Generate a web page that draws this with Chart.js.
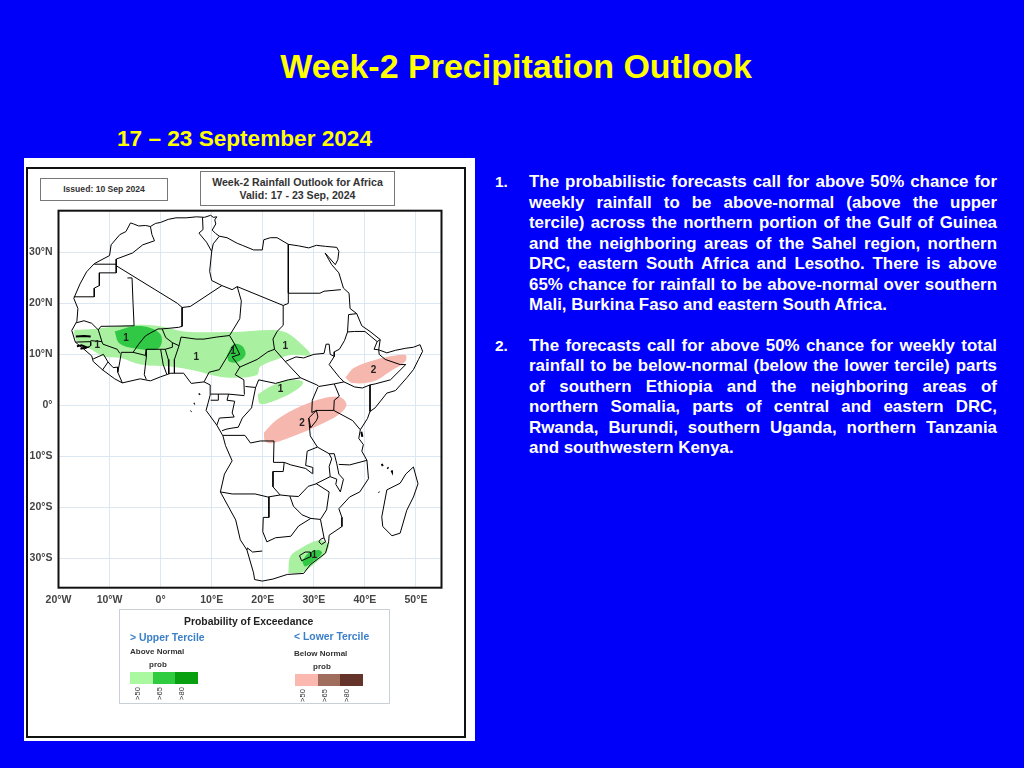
<!DOCTYPE html>
<html>
<head>
<meta charset="utf-8">
<title>Week-2 Precipitation Outlook</title>
<script src="https://cdn.jsdelivr.net/npm/chart.js@4"></script>
<style>
  html, body { margin: 0; padding: 0; }
  body { width: 1024px; height: 768px; background: #0000fa; position: relative; overflow: hidden; font-family: "Liberation Sans", Arial, sans-serif; }
  .abs { position: absolute; white-space: nowrap; }
  #title { left: 0; width: 1032px; top: 46px; text-align: center; color: #ffff00; font-weight: bold; font-size: 34px; line-height: 40px; }
  #dates { left: 117px; top: 126px; color: #ffff00; font-weight: bold; font-size: 22.6px; line-height: 26px; }
  #panel { left: 24px; top: 158px; width: 451px; height: 583px; background: #fff; }
  #frame { left: 26px; top: 167px; width: 436px; height: 567px; border: 2px solid #111; }
  canvas { position: absolute; left: 24px; top: 158px; filter: blur(0.35px); }
  .box { position: absolute; border: 1px solid #777; background: #fff; color: #333; font-weight: bold; text-align: center; box-sizing: border-box; }
  #issued { left: 40px; top: 178px; width: 128px; height: 23px; font-size: 8.6px; line-height: 21px; }
  #maphead { left: 200px; top: 171px; width: 195px; height: 35px; font-size: 10.6px; line-height: 12.5px; padding-top: 4px; }
  #legend { position: absolute; left: 119px; top: 609px; width: 271px; height: 95px; border: 1px solid #c8d0d8; box-sizing: border-box; }
  .lg { position: absolute; white-space: nowrap; color: #222; font-weight: bold; }
  .tercile { color: #3a7fc8; font-size: 10.4px; }
  .small { font-size: 8px; color: #333; }
  .swatch { position: absolute; height: 12px; }
  .rot { position: absolute; white-space: nowrap; font-size: 7.5px; color: #333; transform: rotate(-90deg); transform-origin: center; width: 16px; text-align: center; }
  .para { position: absolute; left: 495px; color: #fff; font-weight: bold; font-size: 16.9px; line-height: 20.5px; }
  .para .num { position: absolute; left: 0; top: 0; font-size: 15.5px; }
  .para .ln { margin-left: 34px; width: 468px; text-align: justify; text-align-last: justify; white-space: nowrap; }
  .para .ln.end { text-align-last: left; }
</style>
</head>
<body>
<div id="title" class="abs">Week-2 Precipitation Outlook</div>
<div id="dates" class="abs">17 – 23 September 2024</div>
<div id="panel" class="abs"></div>
<div id="frame" class="abs"></div>
<canvas id="map" width="452" height="583"></canvas>
<div id="issued" class="box">Issued: 10 Sep 2024</div>
<div id="maphead" class="box">Week-2 Rainfall Outlook for Africa<br>Valid: 17 - 23 Sep, 2024</div>

<div id="legend"></div>
<div class="lg" style="left:184px;top:616px;font-size:10.4px">Probability of Exceedance</div>
<div class="lg tercile" style="left:130px;top:632px">&gt; Upper Tercile</div>
<div class="lg small" style="left:130px;top:647px">Above Normal</div>
<div class="lg small" style="left:149px;top:660px">prob</div>
<div class="lg tercile" style="left:294px;top:631px">&lt; Lower Tercile</div>
<div class="lg small" style="left:294px;top:649px">Below Normal</div>
<div class="lg small" style="left:313px;top:662px">prob</div>
<div id="swatches"></div>

<div class="para" style="top:172px">
  <div class="num">1.</div>
  <div class="ln">The probabilistic forecasts call for above 50% chance for</div>
  <div class="ln">weekly rainfall to be above-normal (above the upper</div>
  <div class="ln">tercile) across the northern portion of the Gulf of Guinea</div>
  <div class="ln">and the neighboring areas of the Sahel region, northern</div>
  <div class="ln">DRC, eastern South Africa and Lesotho. There is above</div>
  <div class="ln">65% chance for rainfall to be above-normal over southern</div>
  <div class="ln end">Mali, Burkina Faso and eastern South Africa.</div>
</div>
<div class="para" style="top:335.5px">
  <div class="num">2.</div>
  <div class="ln">The forecasts call for above 50% chance for weekly total</div>
  <div class="ln">rainfall to be below-normal (below the lower tercile) parts</div>
  <div class="ln">of southern Ethiopia and the neighboring areas of</div>
  <div class="ln">northern Somalia, parts of central and eastern DRC,</div>
  <div class="ln">Rwanda, Burundi, southern Uganda, northern Tanzania</div>
  <div class="ln end">and southwestern Kenya.</div>
</div>

<script>
// axis ticks
const lonTicks = [-20, -10, 0, 10, 20, 30, 40, 50];
const latTicks = [30, 20, 10, 0, -10, -20, -30];

// africa coast, [lon, lat]
const coast = [[-5.9,35.8],[-5.3,35.6],[-4.3,35.2],[-3,35.3],[-2,35.1],[-1,35.7],[0,35.9],[1.5,36.5],[3,36.8],[5,36.8],[7,37],[8.6,36.9],[9.8,37.3],[10.3,36.9],[11,37],[10.6,36.4],[10.8,35.6],[10.1,34.4],[10.8,33.7],[11.5,33.2],[13,32.9],[15,31.8],[16,31.4],[18.2,30.5],[19.9,30.5],[20.2,32.5],[21.5,32.9],[22.8,32.9],[25,31.6],[27,31.3],[29,30.9],[30.5,31.4],[32.3,31.2],[34.5,31],[34.9,30.2],[34.7,28.6],[34.2,27.6],[32.2,29.9],[33.5,27.6],[34.9,26],[35.8,23],[36.9,22],[37.1,19],[38.4,18],[39.4,15.6],[41,14.5],[43,12.9],[42.7,10.9],[44.3,10.3],[46,10.8],[48,11.2],[49.5,11.4],[50.8,11.9],[51.3,10.6],[50.5,9],[49.5,7],[48.2,5.4],[46,2.9],[44.3,2.4],[42,-0.5],[41,-1.2],[40.5,-2.6],[39.1,-4.8],[38.8,-6.5],[39.7,-7.7],[39.4,-9],[40.4,-10.8],[40.7,-14.4],[39,-17],[37,-18],[34.9,-20.3],[35.5,-22],[35.5,-23.8],[33,-25.5],[32.9,-26.8],[32.3,-29],[29.3,-31.3],[28,-33],[24.8,-33.2],[22,-34.1],[19.9,-34.5],[18.4,-34.2],[18.2,-32.9],[16.9,-28.4],[15.6,-26.4],[14.7,-22.5],[11.7,-17],[12.5,-13.5],[14,-10.9],[12.7,-7.9],[12.2,-6],[11,-3.9],[8.9,-1],[9.3,0.5],[9.7,2],[9.7,4],[8.5,4.6],[6,4.3],[4.5,6.3],[2,6.3],[0,5.6],[-2,4.8],[-4,5.2],[-7.5,4.4],[-9,5.2],[-11.3,6.9],[-13.2,8.6],[-13.5,9.7],[-15,11],[-16.7,12.4],[-17.4,14.7],[-16.4,16.5],[-16.2,19],[-17,21],[-15.8,23.8],[-14.5,26.2],[-13,27.8],[-10,29.4],[-9.7,31.5],[-8,33.5],[-6.8,34.1],[-5.9,35.8]];
const madagascar = [[49.5,-12.1],[50.4,-15.4],[49.5,-18],[48.2,-20.6],[46.9,-25.1],[45.3,-25.6],[43.5,-23.8],[43.3,-21.9],[44.3,-16.6],[46.9,-15.3],[48,-13.5],[49.5,-12.1]];

// north africa borders
const moroccoAlgeria = [[-2,35.1],[-1.7,33.5],[-1.2,32.3],[-3.5,31.5],[-5.5,29.9],[-8.7,28.7],[-8.7,27.6]];
const westSahara = [[-13,27.7],[-8.7,27.7],[-8.7,26],[-12,26],[-12,23.5],[-13,23],[-13,21.3],[-17,21.3]];
const algeriaWest = [[-8.7,27.4],[3.3,20],[4.2,19.2],[5.8,19.4],[12,23.5]];
const mauritaniaMali = [[-6.5,25],[-5.6,25],[-5.4,20],[-5.2,15.6],[-11.7,15.5],[-12.2,14.8]];
const senegalRiver = [[-16.5,16.2],[-15,16.6],[-13.5,16.1],[-12.2,14.8],[-11.5,12.5]];
const algeriaLibya = [[12,23.5],[10,24.5],[9.6,26.3],[10,30.2],[9,32],[7.5,33.8],[8.3,34.5],[8.2,36.9]];
const tunisiaLibya = [[11.5,33.2],[10.3,31.7],[10,30.2]];
const libyaSouth = [[12,23.5],[14,22.7],[15,23.3],[24,19.6],[25,20],[25,22]];
const egyptWest = [[25,31.6],[25,22]];
const egyptSudan = [[25,22],[31.2,22],[32,22.4],[35.3,22.7]];

// west africa borders
const maliNiger = [[4.2,19.2],[4.2,15.5],[3.5,15.3],[0.3,15]];
const burkinaMali = [[0.3,15],[-0.5,15],[-2,14.2],[-3,13.6],[-4.3,12],[-5.4,10.4]];
const malinigerSouth = [[0.3,15],[1,13.3],[2.3,12.3],[3.6,11.7]];
const nigerNigeria = [[3.6,11.7],[4,13.4],[6.9,13],[8.5,13],[11,13.4],[13.5,13.7]];
const nigerChad = [[13.5,13.7],[15.5,17],[15.8,20.5],[15,23.3]];
const beninEast = [[3.6,11.7],[2.7,9],[2.7,6.3]];
const burkinaSouth = [[-5.4,10.4],[-3,9.8],[-2.8,11],[0,11],[0.9,11],[2.3,11.4],[2.3,12.3]];
const togoBenin = [[0.9,11],[1.5,9],[1.6,6.2]];
const ghanaTogo = [[0,11],[0.5,8],[1.2,6.1]];
const ghanaIvory = [[-2.8,11],[-2.8,9.5],[-3.2,6],[-2.8,5.1]];
const ivoryWest = [[-7.5,4.4],[-8.4,6.5],[-8,8.5],[-7.7,10.4],[-5.4,10.4]];
const liberia = [[-11.4,6.9],[-10.3,8.5],[-9.3,7.4],[-8.4,7.5],[-8.4,6.5]];
const sierraLeone = [[-13.2,9.1],[-11.2,10],[-10.3,8.5]];
const guineaMali = [[-11.5,12.5],[-11.3,12],[-8.5,11],[-8,10.2]];
const guineaNorth = [[-13.7,12.7],[-11.5,12.5]];
const bissau = [[-16.7,12.4],[-13.7,12.5],[-13.7,11.7],[-15,11]];
const gambia = [[-16.6,13.5],[-15,13.6],[-13.7,13.5]];
const bissauIslands = [[-16.4,11.6],[-15.5,11.8],[-14.5,11.4],[-15.7,11.1]];

// central africa borders
const nigeriaCameroon = [[8.5,4.6],[9.5,6.5],[11.5,7],[13,9.5],[14.5,12],[13.5,13.7]];
const chadCameroon = [[14.5,12],[15,11],[15.5,10],[14,9.5],[15.5,7.5]];
const chadSouth = [[15.5,7.5],[18.9,9],[21,10.5],[22.3,11]];
const chadSudan = [[22.3,11],[22,13],[22.8,14.5],[24,15.7],[24,19.6]];
const sudanSouth = [[22.3,11],[24.4,8.6],[26.5,9.5],[28,9.3],[30,10],[32,10.2],[32.4,12],[33,12],[33.2,10],[34,9.6]];
const carCameroon = [[15.5,7.5],[14.6,6],[16.3,5],[16.4,2.1]];
const carSouth = [[16.6,3.7],[18.6,3.5],[19.2,5],[22.5,4.3],[25,5],[27.4,5.4],[24.4,8.6]];
const cameroonSouth = [[9.8,2.2],[13.3,2.2],[16.4,1.9]];
const eqGuinea = [[9.8,1],[11.3,1],[11.3,2.2]];
const gabon = [[13.3,2.2],[13,1],[14.5,0.8],[14,-1.5],[14.4,-2.3],[11.5,-2.5],[11,-3.9]];
const congoDrc = [[18.6,3.5],[17.8,-0.5],[16,-2.5],[15.2,-4.3],[13.8,-4.5],[12.8,-4.7],[12,-5]];
const drcAngola = [[12.2,-5.9],[13,-5.9],[16.5,-5.9],[17.6,-7.4],[19.5,-7],[22.2,-7],[22.1,-11.2],[24.2,-11.2]];
const angolaZambia = [[24.2,-11.2],[24,-13],[22,-13],[22,-16],[23.4,-17.6]];
const angolaNamibia = [[11.7,-17],[14,-17.4],[18.5,-17.4],[21,-18],[23.4,-17.6],[25.3,-17.8]];

// east africa borders
const eritrea = [[38.4,18],[36.8,17.8],[36.6,14.4],[38,14.5],[40,14.5],[42.4,12.5]];
const djibouti = [[43,12.9],[42.4,12.5],[41.8,11],[42.7,10.9]];
const sudanEthiopia = [[36.6,14.4],[36,12.7],[35,11],[34,10.5],[34,9.6],[33,8],[35,5.5],[35.9,4.6]];
const kenyaNorth = [[34,4.2],[35.9,4.6],[38,3.6],[39.5,3.4],[41,4]];
const ethiopiaSomalia = [[41,4],[42,4.2],[45,5],[48,8],[46.9,8],[44,9],[42.8,10],[42.7,10.9]];
const kenyaSomalia = [[41,4],[41,-1.2]];
const southSudanSouth = [[27.4,5.4],[30.6,4],[31,3.7],[34,4.2]];
const ugandaWest = [[30.8,3.6],[29.7,1],[29.6,-1.4]];
const ugandaEast = [[34,4.2],[35,1.8],[34,1],[33.9,-1]];
const ugandaSouth = [[29.6,-1.4],[30.5,-1],[33.9,-1]];
const kenyaTanzania = [[33.9,-1],[37.6,-3],[39.1,-4.8]];
const rwandaBurundi = [[29,-2.5],[30.5,-1],[30.8,-2.3],[30.5,-3],[29.4,-4.4],[29,-2.5]];
const lakeBorder = [[29,-2.5],[29.3,-6],[30.7,-8.2],[33,-9.5]];
const zambiaDrc = [[24.2,-11.2],[25.5,-11.7],[28.4,-12.4],[29.7,-13.4],[29.8,-12.2],[28.4,-11.8],[28.7,-9],[30.7,-8.2]];
const malawi = [[33,-9.5],[34,-9.5],[34.5,-11.5],[34.9,-13.5],[35.8,-14.5],[35.2,-17],[34.3,-15.5],[34.5,-14.5],[33.2,-14],[33,-12],[33.5,-10.5],[33,-9.5]];
const zambiaMoz = [[30.4,-15.4],[33.2,-14]];
const tanzaniaMoz = [[34.9,-11.6],[37,-11.7],[40.4,-10.8]];

// southern africa borders
const zimbabwe = [[25.3,-17.8],[26,-19.8],[27.7,-21.5],[29.4,-22.2],[31.3,-22.4],[32.5,-20.5],[33,-17],[30.5,-15.4],[28.9,-15.9],[27,-17.9],[25.3,-17.8]];
const namibiaEast = [[21.2,-18],[21.2,-22],[20.1,-22],[20,-24.8],[20.8,-26.8],[22.5,-26],[25.5,-25.7],[27,-23.7],[29.4,-22.2]];
const orangeRiver = [[16.9,-28.4],[17,-28],[18,-28.8],[19.9,-28.6]];
const mozambiqueSa = [[31.3,-22.4],[32,-26]];
const swaziland = [[31.3,-26.3],[32,-26],[32.3,-26.8],[31.5,-27.3],[31,-26.8],[31.3,-26.3]];
const lesotho = [[27.2,-29.5],[28.3,-28.8],[29.3,-28.8],[29.4,-29.7],[28.3,-30.2],[27.6,-30.5],[27.2,-29.5]];

// islands
const bioko = [[7.5,2.1],[7.7,2.3]];
const saoTome = [[6.5,0.3],[6.7,0.4]];
const annobon = [[5.9,-1.2],[6,-1.1]];
const zanzibar = [[39.3,-5.2],[39.5,-6.2]];
const comoros = [[43.3,-11.5],[43.5,-11.9]];
const comorosEast = [[44.4,-12.2],[44.6,-12.4]];
const mayotte = [[45.2,-12.8],[45.3,-13]];
const juanDeNova = [[42.7,-17],[42.8,-17.1]];

// forecast regions
const above50West = [[-16.9,14.8],[-13,15],[-8.5,15.5],[-4.6,15.8],[0,15.5],[4.6,14.5],[13.7,14.4],[22.1,14.8],[24.8,14.2],[27.7,11.9],[29.3,9.9],[25.4,9.9],[23.5,9.3],[19.5,7.6],[18.9,6],[15,5.4],[11.1,5.7],[7.2,6.7],[2,7.6],[-3.9,8],[-7.8,9.3],[-11.1,9.6],[-14,11.2],[-16.3,12.5],[-16.9,13.9],[-16.9,14.8]];
const above50Congo = [[19,2.1],[21.5,3.7],[25.4,5],[27.9,4.6],[26.7,3.1],[22.8,1.1],[19.5,0.3],[19,2.1]];
const above50Safrica = [[25,-32.9],[25.4,-29.7],[27.4,-28.1],[30.9,-26.5],[32.9,-27.3],[32.2,-29.1],[29.9,-31.3],[27.4,-32.9],[25,-32.9]];
const above65Mali = [[-9,14.5],[-5.2,15.5],[-2,15.2],[0,13.9],[0.1,11.9],[-1,10.9],[-5.2,11.2],[-8.1,12.2],[-9,14.5]];
const above65Chad = [[13,9.9],[14.3,12],[16,11.6],[16.6,9.9],[15,8.5],[13.4,8.6],[13,9.9]];
const above65Safrica = [[27.7,-30.6],[29,-29],[30.9,-28.4],[31.6,-29],[30,-30.6],[28.3,-31.6],[27.7,-30.6]];
const below50Somalia = [[36.2,5.4],[37.8,7.3],[42.3,9],[47.9,9.9],[47.9,8.6],[45,6.7],[41.7,4.7],[37.5,4.4],[36.2,5.4]];
const below50Drc = [[20.2,-5.4],[22.8,-2.8],[27.4,-0.2],[31.9,1.4],[35.2,1.6],[36.4,0.1],[34.9,-1.8],[30.6,-4.1],[26.7,-5.8],[22.1,-7.4],[20.5,-7.1],[20.2,-5.4]];

// numbers printed inside the regions
const regionNames = ['1', '1', '1', '1', '1', '1', '1', '2', '2'];
const regionLons = [-6.8, 7, -12.4, 14.2, 24.4, 23.5, 30.1, 41.7, 27.7];
const regionLats = [13.2, 9.5, 11.8, 10.6, 11.5, 3.1, -29.4, 6.8, -3.5];

// legend
const upperLabels = ['>50', '>65', '>80'];
const upperColors = ['#aaf8a0', '#30cc40', '#08a010'];
const lowerLabels = ['>50', '>65', '>80'];
const lowerColors = ['#fbb8ae', '#a06c5c', '#64342a'];

const fmtLon = v => v === 0 ? '0°' : `${Math.abs(v)}°${v < 0 ? 'W' : 'E'}`;
const fmtLat = v => v === 0 ? '0°' : `${Math.abs(v)}°${v < 0 ? 'S' : 'N'}`;
const toPoints = list => list.map(p => ({ x: p[0], y: p[1] }));

function drawSwatches(left, top, colors, labels, labelTop) {
  const holder = document.getElementById('swatches');
  colors.forEach((c, i) => {
    holder.innerHTML += `<div class="swatch" style="left:${left + i * 22.5}px;top:${top}px;width:22.5px;background:${c}"></div>`;
    holder.innerHTML += `<div class="rot" style="left:${left - 1 + i * 22}px;top:${labelTop}px">${labels[i]}</div>`;
  });
}
drawSwatches(130, 672, upperColors, upperLabels, 689);
drawSwatches(295, 674, lowerColors, lowerLabels, 691);

function regionSet(list, color, order) {
  return { data: toPoints(list), showLine: true, fill: 'shape', backgroundColor: color, borderWidth: 0, pointRadius: 0, tension: 0.35, order };
}
function borderSet(list, width) {
  return { data: toPoints(list), showLine: true, fill: false, borderColor: '#000', borderWidth: width, pointRadius: 0, order: 1 };
}

const thinLines = [coast, madagascar, moroccoAlgeria, westSahara, algeriaWest, mauritaniaMali, senegalRiver, algeriaLibya, tunisiaLibya, libyaSouth, egyptWest, egyptSudan,
  maliNiger, burkinaMali, malinigerSouth, nigerNigeria, nigerChad, beninEast, burkinaSouth, togoBenin, ghanaTogo, ghanaIvory, ivoryWest, liberia, sierraLeone, guineaMali, guineaNorth, bissau,
  nigeriaCameroon, chadCameroon, chadSouth, chadSudan, sudanSouth, carCameroon, carSouth, cameroonSouth, eqGuinea, gabon, congoDrc, drcAngola, angolaZambia, angolaNamibia,
  eritrea, djibouti, sudanEthiopia, kenyaNorth, ethiopiaSomalia, kenyaSomalia, southSudanSouth, ugandaWest, ugandaEast, ugandaSouth, kenyaTanzania, rwandaBurundi, lakeBorder, zambiaDrc, malawi, zambiaMoz, tanzaniaMoz,
  zimbabwe, namibiaEast, orangeRiver, mozambiqueSa, swaziland, lesotho];
const thickLines = [gambia, bissauIslands, bioko, saoTome, annobon, zanzibar, comoros, comorosEast, mayotte, juanDeNova];

const datasets = [
  ...thinLines.map(l => borderSet(l, 1)),
  ...thickLines.map(l => borderSet(l, 2)),
  regionSet(above65Mali, '#30c845', 2),
  regionSet(above65Chad, '#30c845', 2),
  regionSet(above65Safrica, '#30c845', 2),
  regionSet(above50West, '#a9f0a0', 3),
  regionSet(above50Congo, '#a9f0a0', 3),
  regionSet(above50Safrica, '#a9f0a0', 3),
  regionSet(below50Somalia, '#f6b7ae', 3),
  regionSet(below50Drc, '#f6b7ae', 3),
];

const mapFrame = {
  id: 'mapFrame',
  afterDraw(chart) {
    const { ctx, chartArea: a } = chart;
    ctx.save();
    ctx.strokeStyle = '#111';
    ctx.lineWidth = 2;
    ctx.strokeRect(a.left, a.top, a.right - a.left, a.bottom - a.top);
    ctx.restore();
  },
};

const regionText = {
  id: 'regionText',
  afterDatasetsDraw(chart) {
    const { ctx, scales } = chart;
    ctx.save();
    ctx.font = 'bold 10px "Liberation Sans"';
    ctx.fillStyle = '#222';
    ctx.textAlign = 'center';
    ctx.textBaseline = 'middle';
    regionNames.forEach((name, i) => {
      ctx.fillText(name, scales.x.getPixelForValue(regionLons[i]), scales.y.getPixelForValue(regionLats[i]));
    });
    ctx.restore();
  },
};

const tickFont = { family: '"Liberation Sans"', size: 10.5, weight: 'bold' };

new Chart(document.getElementById('map'), {
  type: 'scatter',
  data: { datasets },
  plugins: [mapFrame, regionText],
  options: {
    responsive: false,
    animation: false,
    devicePixelRatio: 1,
    layout: { padding: { left: 0, right: 34.5, top: 52.7, bottom: 125.3 } },
    plugins: { legend: { display: false }, tooltip: { enabled: false } },
    scales: {
      x: {
        type: 'linear', min: -20, max: 55,
        afterBuildTicks: s => { s.ticks = lonTicks.map(value => ({ value })); },
        afterFit: s => { s.height = 28; },
        grid: { color: '#dde7f1', lineWidth: 1, drawTicks: false },
        border: { display: false },
        ticks: { color: '#444', font: tickFont, padding: 6, maxRotation: 0, autoSkip: false, callback: fmtLon },
      },
      y: {
        type: 'linear', min: -35.8, max: 38.2,
        afterBuildTicks: s => { s.ticks = latTicks.map(value => ({ value })); },
        afterFit: s => { s.width = 34.5; },
        grid: { color: '#dde7f1', lineWidth: 1, drawTicks: false },
        border: { display: false },
        ticks: { color: '#444', font: tickFont, padding: 6, autoSkip: false, callback: fmtLat },
      },
    },
  },
});
</script>
</body>
</html>
